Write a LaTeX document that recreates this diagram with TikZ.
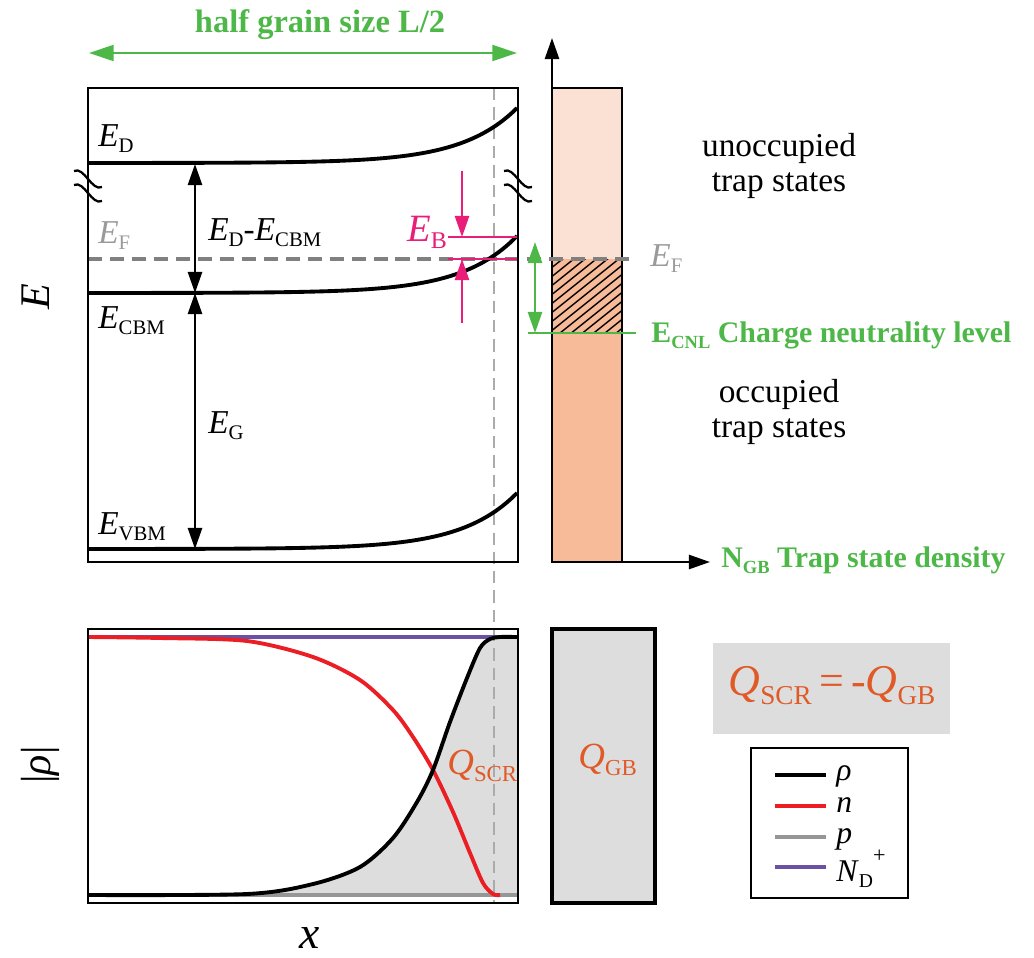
\documentclass[tikz,border=0pt]{standalone}
\usepackage{fontspec}
\setmainfont{Liberation Serif}
\usepackage{graphicx}
\usetikzlibrary{arrows.meta}
\definecolor{grn}{RGB}{77,184,72}
\definecolor{mag}{RGB}{232,30,120}
\definecolor{org}{RGB}{224,90,40}
\definecolor{rd}{RGB}{235,30,35}
\definecolor{prp}{RGB}{106,81,163}
\definecolor{pgray}{RGB}{150,150,150}
\definecolor{efgray}{RGB}{128,128,128}
\definecolor{barlight}{RGB}{250,225,212}
\definecolor{bardark}{RGB}{248,187,153}
\definecolor{gfill}{RGB}{221,221,221}
\newcommand\lo[1]{\raisebox{-0.45ex}{\scalebox{0.62}{#1}}}
\begin{document}
\begin{tikzpicture}[x=0.02cm,y=-0.02cm,
  lbl/.style={font=\fontsize{19}{22}\selectfont, inner sep=0pt},
  bgreen/.style={font=\fontsize{17}{20}\selectfont\bfseries, text=grn, inner sep=0pt},
  leg/.style={font=\fontsize{18}{19}\selectfont, inner sep=0pt},
  big/.style={font=\fontsize{25}{28}\selectfont, inner sep=0pt},
  boxline/.style={line width=1.4pt},
  curve/.style={line width=2.2pt},
  tip/.style={-{Triangle[length=12pt,width=8pt]}},
  dtip/.style={{Triangle[length=12pt,width=8pt]}-{Triangle[length=12pt,width=8pt]}},
  brk/.style={line width=1.3pt},
  legline/.style={line width=2.6pt}]
\useasboundingbox (0,0) rectangle (1034,957);

% ---------- half grain size ----------
\draw[grn, line width=1.4pt, {Triangle[length=14pt,width=9pt]}-{Triangle[length=14pt,width=9pt]}] (89,53) -- (517,53);
\node[bgreen, font=\fontsize{18.5}{22}\selectfont\bfseries, anchor=base] (hg) at (320,32) {half grain size L/2};

% ---------- trap state bar ----------
\fill[barlight] (552,88) rectangle (622,259);
\fill[bardark] (552,259) rectangle (622,562);
\begin{scope}
  \clip (552,259) rectangle (622,333);
  \foreach \k in {0,...,17} \draw[line width=0.8pt] (540,{259+\k*9}) -- ++(100,-80);
\end{scope}
\draw[boxline] (552,88) rectangle (622,562);

% axes
\coordinate (o) at (552,562);
\coordinate (yt) at (552,38);
\coordinate (xt) at (710,562);
\draw[line width=1.4pt, tip] (o) -- (yt);
\draw[line width=1.4pt, tip] (o) -- (xt);

% ---------- top band diagram ----------
\draw[pgray!80, line width=1pt, dash pattern=on 7pt off 4pt] (494,88) -- (494,903);
\draw[efgray, line width=2.2pt, dash pattern=on 8pt off 4.5pt] (88,259) -- (636,259);
\draw[grn, line width=1.6pt] (528,333) -- (636,333);
\draw[grn, line width=1.4pt, {Triangle[length=12pt,width=8pt]}-{Triangle[length=12pt,width=8pt]}] (535,242) -- (535,333);

\draw[curve] plot[domain=88:517, samples=120] (\x,{163-55*exp((\x-517)/55)});
\draw[curve] plot[domain=88:517, samples=120] (\x,{293-57*exp((\x-517)/55)});
\draw[curve] plot[domain=88:517, samples=120] (\x,{549-56*exp((\x-517)/55)});

% E_B
\draw[mag, line width=1.6pt] (448,237) -- (518,237);
\draw[mag, line width=1.6pt] (448,259) -- (518,259);
\draw[mag, line width=1.4pt, tip] (462,171) -- (462,237);
\draw[mag, line width=1.4pt, tip] (462,323) -- (462,259);
\node[font=\fontsize{22}{24}\selectfont, inner sep=0pt, text=mag, anchor=base west] (eb) at (407,241) {\textit{E}\lo{B}};

% black double arrows
\draw[line width=1.4pt, dtip] (195,164) -- (195,293);
\draw[line width=1.4pt, dtip] (195,293) -- (195,549);

\draw[boxline] (88,88) rectangle (518,562);

% break marks
\foreach \bx in {88,518} {
  \foreach \by in {179,193} {
    \draw[brk] (\bx-14,\by-8) .. controls (\bx-4,\by-13) and (\bx+4,\by+13) .. (\bx+14,\by+8);
  }
}

% labels
\node[lbl, anchor=base west] (ed) at (98,146) {\textit{E}\lo{D}};
\node[lbl, anchor=base west, text=efgray!80] (efl) at (98,243) {\textit{E}\lo{F}};
\node[lbl, anchor=base west] (edcbm) at (208,240) {\textit{E}\lo{D}-\textit{E}\lo{CBM}};
\node[lbl, anchor=base west] (ecbm) at (98,328) {\textit{E}\lo{CBM}};
\node[lbl, anchor=base west] (eg) at (208,433) {\textit{E}\lo{G}};
\node[lbl, anchor=base west] (evbm) at (98,534) {\textit{E}\lo{VBM}};
\node[font=\fontsize{24}{26}\selectfont, inner sep=0pt, rotate=90] (E) at (36,297) {\textit{E}};
\node[lbl, anchor=base west, text=efgray!80] (efr) at (650,266) {\textit{E}\lo{F}};
\node[bgreen, anchor=base west] (ecnl) at (651,342) {E\lo{CNL} Charge neutrality level};
\node[bgreen, anchor=base west] (ngb) at (721,567) {N\lo{GB} Trap state density};
\node[lbl, align=center, anchor=center] (unocc) at (779,166) {unoccupied\\[-2pt]trap states};
\node[lbl, align=center, anchor=center] (occ) at (779,412) {occupied\\[-2pt]trap states};

% ---------- bottom charge plot ----------
\fill[gfill] plot[smooth] coordinates {(88,895) (247,894) (313,884) (360,867) (393,838) (417,802) (433,770) (450,722) (467,678) (480,648) (490,639) (500,637) (517,637)} -- (517,895) -- cycle;
\draw[pgray!80, line width=1pt, dash pattern=on 7pt off 4pt] (494,629) -- (494,903);
\draw[prp, curve] (88,637) -- (518,637);
\draw[pgray, curve] (88,895) -- (518,895);
\draw[rd, curve] plot[smooth] coordinates {(88,637) (160,638) (247,641) (313,657) (360,680) (393,710) (413,737) (433,770) (453,812) (470,853) (483,883) (493,894) (500,895)};
\draw[curve] plot[smooth] coordinates {(88,895) (247,894) (313,884) (360,867) (393,838) (417,802) (433,770) (450,722) (467,678) (480,648) (490,639) (500,637) (517,637)};
\draw[boxline] (88,629) rectangle (518,903);
\node[lbl, anchor=base west, text=org, font=\fontsize{21}{23}\selectfont] (qscr) at (447,774) {\textit{Q}\lo{SCR}};

\fill[gfill] (552,629) rectangle (655,903);
\draw[boxline, line width=1.8pt] (552,629) rectangle (655,903);
\node[lbl, anchor=base west, text=org, font=\fontsize{21}{23}\selectfont] (qgb) at (578,768) {\textit{Q}\lo{GB}};

\node[font=\fontsize{24}{26}\selectfont, inner sep=0pt, rotate=90] (rho) at (40,765) {|\textit{ρ}|};
\node[font=\fontsize{26}{28}\selectfont, inner sep=0pt] (xl) at (310,938) {\textit{x}};

% equation box
\fill[gfill] (713,643) rectangle (950,734);
\node[big, text=org, anchor=base] (eq) at (832,695) {\textit{Q}\lo{SCR}\,=\,-\textit{Q}\lo{GB}};

% legend
\draw[line width=1.5pt] (751,748) rectangle (908,898);
\draw[legline] (775,775) -- (826,775);
\draw[legline, rd] (775,806) -- (826,806);
\draw[legline, pgray] (775,837) -- (826,837);
\draw[legline, prp] (775,867) -- (826,867);
\node[leg, anchor=west] (lr) at (836,776) {\textit{ρ}};
\node[leg, anchor=west] (ln) at (836,805) {\textit{n}};
\node[leg, anchor=west] (lp) at (836,839) {\textit{p}};
\node[leg, anchor=west] (lnd) at (836,869) {\textit{N}\lo{D}\raisebox{1.3ex}{\scalebox{0.7}{+}}};
\end{tikzpicture}
\end{document}
